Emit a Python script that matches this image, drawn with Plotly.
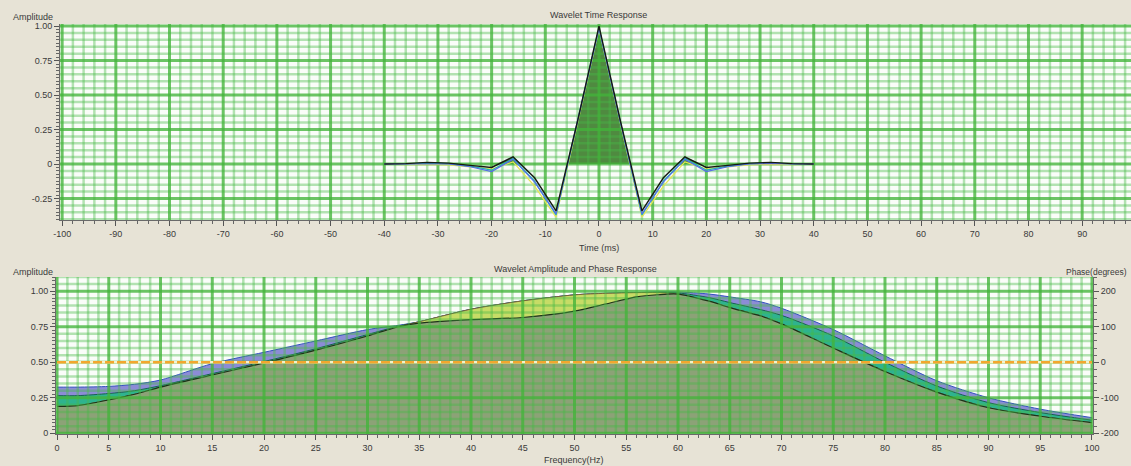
import numpy as np
import plotly.graph_objects as go

# ---------------- data ----------------
# Wavelet time response (ms, amplitude)
time_ms = [-40, -36, -32, -28, -24, -20, -16, -12, -8, -4, 0, 4, 8, 12, 16, 20, 24, 28, 32, 36, 40]
wav_black = [0, 0.003, 0.012, 0.006, -0.01, -0.025, 0.052, -0.10, -0.34, 0.31, 1.0, 0.31, -0.34, -0.10, 0.052, -0.025, -0.01, 0.006, 0.012, 0.003, 0]
wav_blue = [0, 0, 0.004, 0, -0.02, -0.055, 0.035, -0.13, -0.362, 0.30, 0.985, 0.30, -0.362, -0.13, 0.035, -0.055, -0.02, 0, 0.004, 0, 0]
wav_cyan = [0, 0, 0.006, 0.002, -0.016, -0.045, 0.04, -0.125, -0.37, 0.30, 0.985, 0.30, -0.37, -0.125, 0.04, -0.045, -0.016, 0.002, 0.006, 0, 0]
wav_yellow = [0, -0.004, -0.002, -0.006, -0.02, -0.035, 0.015, -0.16, -0.385, 0.295, 0.98, 0.295, -0.385, -0.16, 0.015, -0.035, -0.02, -0.006, -0.002, -0.004, 0]

# Amplitude spectra (Hz, normalised amplitude)
freq_hz = [0, 2, 5, 7.5, 10, 15, 20, 25, 30, 33, 35, 40, 45, 50, 53, 56, 58, 60, 63, 65, 68, 70, 75, 80, 85, 90, 95, 100]
amp_green = [0.19, 0.195, 0.235, 0.275, 0.325, 0.41, 0.495, 0.585, 0.685, 0.75, 0.775, 0.80, 0.815, 0.86, 0.91, 0.96, 0.975, 0.98, 0.93, 0.885, 0.826, 0.77, 0.60, 0.435, 0.29, 0.18, 0.12, 0.075]
amp_yellow = [0.19, 0.195, 0.235, 0.275, 0.325, 0.41, 0.495, 0.585, 0.685, 0.75, 0.785, 0.873, 0.932, 0.974, 0.985, 0.99, 0.99, 0.98, 0.93, 0.885, 0.826, 0.77, 0.60, 0.435, 0.29, 0.18, 0.12, 0.075]
amp_teal = [0.265, 0.265, 0.28, 0.30, 0.335, 0.42, 0.505, 0.595, 0.695, 0.755, 0.785, 0.873, 0.932, 0.974, 0.985, 0.99, 0.992, 0.988, 0.955, 0.92, 0.87, 0.83, 0.685, 0.50, 0.333, 0.216, 0.146, 0.092]
amp_purple = [0.325, 0.325, 0.33, 0.345, 0.375, 0.49, 0.57, 0.65, 0.73, 0.76, 0.785, 0.873, 0.932, 0.974, 0.985, 0.99, 0.995, 0.995, 0.98, 0.96, 0.925, 0.88, 0.73, 0.545, 0.37, 0.25, 0.17, 0.11]
phase_deg = [0, 0, 0, 0, 0, 0, 0, 0, 0, 0, 0, 0, 0, 0, 0, 0, 0, 0, 0, 0, 0, 0, 0, 0, 0, 0, 0, 0]

# tick labels
time_ticks = [-100, -90, -80, -70, -60, -50, -40, -30, -20, -10, 0, 10, 20, 30, 40, 50, 60, 70, 80, 90, 100]
time_tick_text = ["-100", "-90", "-80", "-70", "-60", "-50", "-40", "-30", "-20", "-10", "0",
                  "10", "20", "30", "40", "50", "60", "70", "80", "90", "100"]
amp_tick_vals_top = [-0.25, 0, 0.25, 0.5, 0.75, 1.0]
amp_tick_text_top = ["-0.25", "0", "0.25", "0.50", "0.75", "1.00"]
freq_ticks = [0, 5, 10, 15, 20, 25, 30, 35, 40, 45, 50, 55, 60, 65, 70, 75, 80, 85, 90, 95, 100]
amp_tick_vals_bot = [0, 0.25, 0.5, 0.75, 1.0]
amp_tick_text_bot = ["0", "0.25", "0.50", "0.75", "1.00"]
phase_ticks = [-200, -100, 0, 100, 200]
phase_tick_text = ["-200", "-100", "0", "100", "200"]

# ---------------- layout geometry ----------------
W, H = 1131, 466
BG = "#e7e3d6"
TXT = "#3a3a3a"
FONT = "Liberation Sans"

top_xr = [-100.4, 99.1]
top_yr = [-0.406, 1.015]
bot_xr = [-0.1, 100.1]
bot_yr = [-0.005, 1.1]
ph_yr = [-202, 240]

fig = go.Figure()

# ---------------- top: wavelet time response ----------------
t_dense = np.linspace(min(time_ms), max(time_ms), 1601)
y_dense = np.interp(t_dense, time_ms, wav_black)
fig.add_trace(go.Scatter(x=t_dense, y=np.clip(y_dense, 0, None), mode="lines",
                         line=dict(width=0, color="rgba(0,0,0,0)"), fill="tozeroy",
                         fillcolor="#4f8a40", xaxis="x", yaxis="y",
                         hoverinfo="skip", showlegend=False))


def grid_trace(vals_x, vals_y, xr, yr, xa, ya, color, width):
    gx, gy = [], []
    for v in vals_x:
        gx += [v, v, None]
        gy += [yr[0], yr[1], None]
    for v in vals_y:
        gx += [xr[0], xr[1], None]
        gy += [v, v, None]
    return go.Scatter(x=gx, y=gy, mode="lines", line=dict(color=color, width=width),
                      xaxis=xa, yaxis=ya, hoverinfo="skip", showlegend=False,
                      connectgaps=False)


MINOR = "rgba(70,186,70,0.40)"
MAJOR = "rgba(66,180,58,0.78)"

# top grid
tx_all = np.arange(-100, 100, 2)
tx_major = [v for v in tx_all if v % 10 == 0]
tx_minor = [v for v in tx_all if v % 10 != 0]
ty_all = np.round(np.arange(-0.40, 1.0001, 0.05), 3)
ty_major = [v for v in ty_all if abs(v / 0.25 - round(v / 0.25)) < 1e-6]
ty_minor = [v for v in ty_all if abs(v / 0.25 - round(v / 0.25)) >= 1e-6]
fig.add_trace(grid_trace(tx_minor, ty_minor, top_xr, top_yr, "x", "y", MINOR, 2.5))
fig.add_trace(grid_trace(tx_major, ty_major, top_xr, top_yr, "x", "y", MAJOR, 3))

for ys, col, w in [(wav_yellow, "#e4e458", 1.3), (wav_cyan, "#22b4b4", 1.2),
                   (wav_blue, "#5a6ee8", 1.2), (wav_black, "#151a12", 1.4)]:
    fig.add_trace(go.Scatter(x=time_ms, y=ys, mode="lines", line=dict(color=col, width=w),
                             xaxis="x", yaxis="y", hoverinfo="skip", showlegend=False))

# ---------------- bottom: amplitude & phase ----------------
for ys, fc, lc, lw in [(amp_purple, "#8c8cd6", "#3350c0", 1.0),
                       (amp_teal, "#2fb38e", "#1a5f50", 1.0),
                       (amp_yellow, "#c6dc66", "#7a5a38", 0.9),
                       (amp_green, "#8ca277", "#1c3318", 1.2)]:
    fig.add_trace(go.Scatter(x=freq_hz, y=ys, mode="lines",
                             line=dict(color=lc, width=lw, shape="spline", smoothing=0.8),
                             fill="tozeroy", fillcolor=fc, xaxis="x2", yaxis="y2",
                             hoverinfo="skip", showlegend=False))

bx_all = np.arange(0, 101, 1)
bx_major = [v for v in bx_all if v % 5 == 0]
bx_minor = [v for v in bx_all if v % 5 != 0]
by_all = np.round(np.arange(0, 1.1001, 0.05), 3)
by_major = [v for v in by_all if abs(v / 0.25 - round(v / 0.25)) < 1e-6]
by_minor = [v for v in by_all if abs(v / 0.25 - round(v / 0.25)) >= 1e-6]
fig.add_trace(grid_trace(bx_minor, by_minor, bot_xr, bot_yr, "x2", "y2", MINOR, 2.5))
fig.add_trace(grid_trace(bx_major, by_major, bot_xr, bot_yr, "x2", "y2", MAJOR, 3))

# phase (zero) line on right axis
fig.add_trace(go.Scatter(x=freq_hz, y=phase_deg, mode="lines",
                         line=dict(color="rgba(255,244,210,0.95)", width=2.5),
                         xaxis="x2", yaxis="y3", hoverinfo="skip", showlegend=False))
fig.add_trace(go.Scatter(x=freq_hz, y=phase_deg, mode="lines",
                         line=dict(color="#f2a72e", width=2.5, dash="9px,3px"),
                         xaxis="x2", yaxis="y3", hoverinfo="skip", showlegend=False))

axis_common = dict(showgrid=False, zeroline=False, showline=True, linecolor="#6a6a6a",
                   linewidth=1, ticks="outside", ticklen=5, tickcolor="#555",
                   tickfont=dict(family=FONT, size=9, color=TXT))

fig.update_layout(
    width=W, height=H,
    paper_bgcolor=BG, plot_bgcolor="#fafdf9",
    margin=dict(l=0, r=0, t=0, b=0, autoexpand=False),
    showlegend=False,
    font=dict(family=FONT, size=9, color=TXT),
    xaxis=dict(axis_common, domain=[60 / W, 1.0], range=top_xr, anchor="y",
               tickmode="array", tickvals=time_ticks, ticktext=time_tick_text,
               minor=dict(ticks="outside", ticklen=3, tickcolor="#666", tickmode="linear",
                          tick0=0, dtick=2, showgrid=False)),
    yaxis=dict(axis_common, domain=[(H - 220) / H, (H - 24) / H], range=top_yr, anchor="x",
               tickmode="array", tickvals=amp_tick_vals_top, ticktext=amp_tick_text_top,
               minor=dict(ticks="outside", ticklen=3, tickcolor="#666", tickmode="linear",
                          tick0=0, dtick=0.025, showgrid=False)),
    xaxis2=dict(axis_common, domain=[56 / W, 1093 / W], range=bot_xr, anchor="y2",
                tickmode="array", tickvals=freq_ticks,
                minor=dict(ticks="outside", ticklen=3, tickcolor="#666", tickmode="linear",
                           tick0=0, dtick=1, showgrid=False)),
    yaxis2=dict(axis_common, domain=[(H - 434) / H, (H - 277) / H], range=bot_yr, anchor="x2",
                tickmode="array", tickvals=amp_tick_vals_bot, ticktext=amp_tick_text_bot,
                minor=dict(ticks="outside", ticklen=3, tickcolor="#666", tickmode="linear",
                           tick0=0, dtick=0.025, showgrid=False)),
    yaxis3=dict(axis_common, overlaying="y2", side="right", anchor="x2", range=ph_yr,
                tickmode="array", tickvals=phase_ticks, ticktext=phase_tick_text,
                minor=dict(ticks="outside", ticklen=3, tickcolor="#666", tickmode="linear",
                           tick0=0, dtick=20, showgrid=False)),
)


def ann(text, px, py, xanchor="center", size=9):
    fig.add_annotation(text=text, x=px / W, y=1 - py / H, xref="paper", yref="paper",
                       xanchor=xanchor, yanchor="middle", showarrow=False,
                       font=dict(family=FONT, size=size, color=TXT))


ann("Wavelet Time Response", 598, 15)
ann("Amplitude", 11, 17, "left")
ann("Time (ms)", 599, 248)
ann("Wavelet Amplitude and Phase Response", 575, 269)
ann("Amplitude", 11, 272, "left")
ann("Phase(degrees)", 1129, 272, "right", 8.5)
ann("Frequency(Hz)", 574, 460)

fig.write_html("out.html", config={"displayModeBar": False},
               post_script="document.body.style.margin='0';document.body.style.background='%s';" % BG)
